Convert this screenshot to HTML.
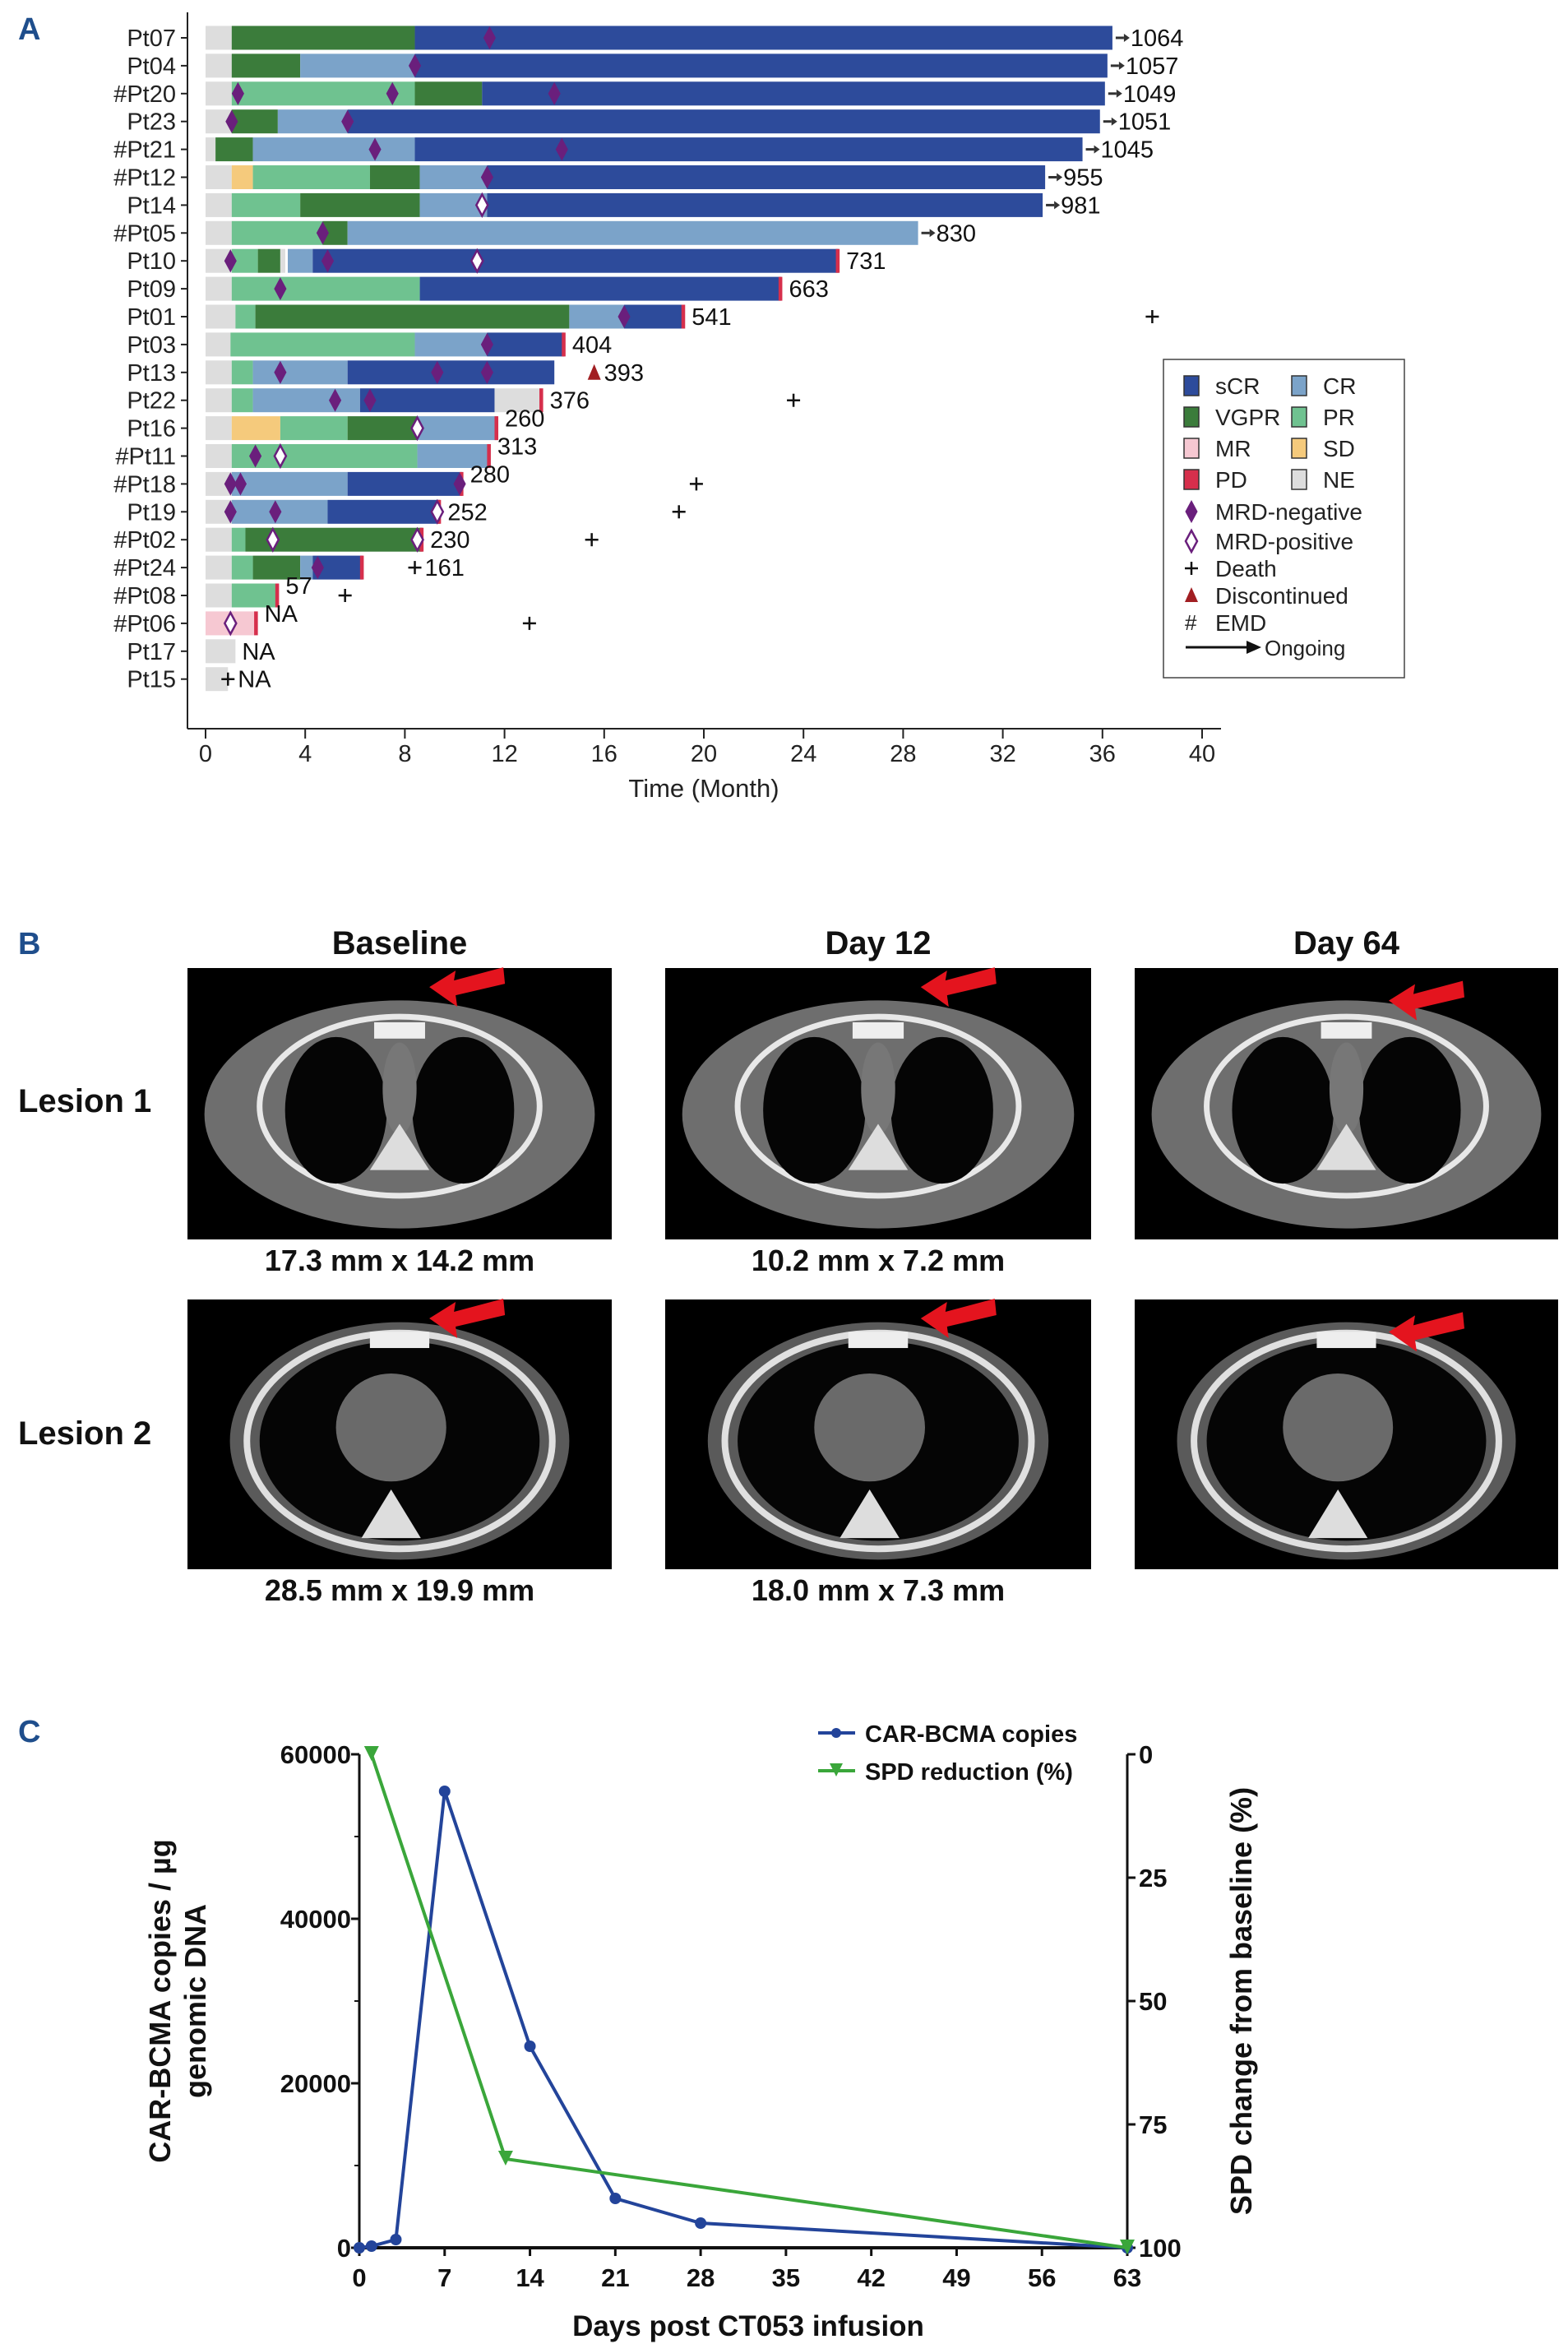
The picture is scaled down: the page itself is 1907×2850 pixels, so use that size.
<!DOCTYPE html>
<html><head><meta charset="utf-8"><style>
body{margin:0;background:#fff;width:1907px;height:2850px;overflow:hidden;font-family:"Liberation Sans",sans-serif}
svg{display:block}
</style></head><body>
<svg id="root" width="1907" height="2850" viewBox="0 0 1907 2850" xmlns="http://www.w3.org/2000/svg" font-family="Liberation Sans, sans-serif">
<text x="22" y="48" font-size="38" font-weight="bold" fill="#1f4e8c">A</text>
<g id="panelA"></g>
<g id="legendA"></g>
<text x="22" y="1160" font-size="38" font-weight="bold" fill="#1f4e8c">B</text>
<g id="panelB"></g>
<text x="22" y="2118" font-size="38" font-weight="bold" fill="#1f4e8c">C</text>
<g id="panelC"></g>
</svg>
<script>
const NS="http://www.w3.org/2000/svg";
function mk(tag,attrs,parent,txt){const e=document.createElementNS(NS,tag);for(const k in attrs)e.setAttribute(k,attrs[k]);if(txt!==undefined)e.textContent=txt;parent.appendChild(e);return e;}
// ---------- Panel A data ----------
const patients=["Pt07","Pt04","#Pt20","Pt23","#Pt21","#Pt12","Pt14","#Pt05","Pt10","Pt09","Pt01","Pt03","Pt13","Pt22","Pt16","#Pt11","#Pt18","Pt19","#Pt02","#Pt24","#Pt08","#Pt06","Pt17","Pt15"];
const segments=[
[["NE",0,1.05],["VGPR",1.05,8.4],["sCR",8.4,36.4]],
[["NE",0,1.05],["VGPR",1.05,3.8],["CR",3.8,8.4],["sCR",8.4,36.2]],
[["NE",0,1.05],["PR",1.05,8.4],["VGPR",8.4,11.1],["sCR",11.1,36.1]],
[["NE",0,1.05],["VGPR",1.05,2.9],["CR",2.9,5.7],["sCR",5.7,35.9]],
[["NE",0,0.4],["VGPR",0.4,1.9],["CR",1.9,8.4],["sCR",8.4,35.2]],
[["NE",0,1.05],["SD",1.05,1.9],["PR",1.9,6.6],["VGPR",6.6,8.6],["CR",8.6,11.3],["sCR",11.3,33.7]],
[["NE",0,1.05],["PR",1.05,3.8],["VGPR",3.8,8.6],["CR",8.6,11.3],["sCR",11.3,33.6]],
[["NE",0,1.05],["PR",1.05,4.7],["VGPR",4.7,5.7],["CR",5.7,28.6]],
[["NE",0,1.05],["PR",1.05,2.1],["VGPR",2.1,3.0],["NE",3.0,3.2],["CR",3.3,4.3],["sCR",4.3,25.4],["PD",25.3,25.45]],
[["NE",0,1.05],["PR",1.05,8.6],["sCR",8.6,23.1],["PD",23.0,23.15]],
[["NE",0,1.2],["PR",1.2,2.0],["VGPR",2.0,14.6],["CR",14.6,16.8],["sCR",16.8,19.2],["PD",19.1,19.25]],
[["NE",0,1.0],["PR",1.0,8.4],["CR",8.4,11.3],["sCR",11.3,14.4],["PD",14.3,14.45]],
[["NE",0,1.05],["PR",1.05,1.9],["CR",1.9,5.7],["sCR",5.7,14.0]],
[["NE",0,1.05],["PR",1.05,1.9],["CR",1.9,6.2],["sCR",6.2,11.6],["NE",11.6,13.5],["PD",13.4,13.55]],
[["NE",0,1.05],["SD",1.05,3.0],["PR",3.0,5.7],["VGPR",5.7,8.5],["CR",8.5,11.7],["PD",11.6,11.75]],
[["NE",0,1.05],["PR",1.05,8.5],["CR",8.5,11.4],["PD",11.3,11.45]],
[["NE",0,1.05],["CR",1.05,5.7],["sCR",5.7,10.3],["PD",10.2,10.35]],
[["NE",0,1.05],["CR",1.05,4.9],["sCR",4.9,9.4],["PD",9.3,9.45]],
[["NE",0,1.05],["PR",1.05,1.6],["VGPR",1.6,8.7],["PD",8.6,8.75]],
[["NE",0,1.05],["PR",1.05,1.9],["VGPR",1.9,3.8],["CR",3.8,4.3],["sCR",4.3,6.3],["PD",6.2,6.35]],
[["NE",0,1.05],["PR",1.05,2.9],["PD",2.8,2.95]],
[["MR",0,2.0],["PD",1.95,2.1]],
[["NE",0,1.2]],
[["NE",0,0.9]]
];
const mrdNeg=[[11.4],[8.4],[1.3,7.5,14.0],[1.05,5.7],[6.8,14.3],[11.3],[],[4.7],[1.0,4.9],[3.0],[16.8],[11.3],[3.0,9.3,11.3],[5.2,6.6],[],[2.0],[1.0,1.4,10.2],[1.0,2.8],[],[4.5],[],[],[],[]];
const mrdPos=[[],[],[],[],[],[],[11.1],[],[10.9],[],[],[],[],[],[8.5],[3.0],[],[9.3],[2.7,8.5],[],[],[1.0],[],[]];
const deaths=[null,null,null,null,null,null,null,null,null,null,38.0,null,null,23.6,null,null,19.7,19.0,15.5,8.4,5.6,13.0,null,0.9];
const discontinued=[null,null,null,null,null,null,null,null,null,null,null,null,15.6,null,null,null,null,null,null,null,null,null,null,null];
const labels=["1064","1057","1049","1051","1045","955","981","830","731","663","541","404","393","376","260","313","280","252","230","161","57","NA","NA","NA"];
const ongoing=[1,1,1,1,1,1,1,1,0,0,0,0,0,0,0,0,0,0,0,0,0,0,0,0];
const xTicksA=[0,4,8,12,16,20,24,28,32,36,40];
const colors={sCR:"#2d4b9b",CR:"#7ba3c9",VGPR:"#3b7c3b",PR:"#6fc290",MR:"#f6c8d2",SD:"#f5ca7c",PD:"#d62f4c",NE:"#dddddd"};
const X0=250,X1=1462;
const xA=m=>X0+m*(X1-X0)/40;
const rowY=i=>46+i*33.9;
const gA=document.getElementById("panelA");
let ax=mk("line",{x1:228,y1:15,x2:228,y2:886,stroke:"#222","stroke-width":2},gA);

ax=mk("line",{x1:228,y1:886,x2:1485,y2:886,stroke:"#222","stroke-width":2},gA);

xTicksA.forEach(t=>{
  const l=mk("line",{x1:xA(t),y1:886,x2:xA(t),y2:898,stroke:"#222","stroke-width":2},gA);
  
  const tx=mk("text",{x:xA(t),y:926,"font-size":29,"text-anchor":"middle",fill:"#222"},gA,String(t));
  
});
let xt=mk("text",{x:856,y:969,"font-size":31,"text-anchor":"middle",fill:"#222"},gA,"Time (Month)");

function diamond(cx,cy,filled,parent){
  return mk("polygon",{points:`${cx},${cy-13} ${cx+7},${cy} ${cx},${cy+13} ${cx-7},${cy}`,fill:filled?"#6a1f7c":"#fff",stroke:"#6a1f7c","stroke-width":filled?1:2.5},parent);
}
function plus(cx,cy,parent){
  const g=mk("g",{},parent);
  mk("line",{x1:cx-8,y1:cy,x2:cx+8,y2:cy,stroke:"#111","stroke-width":2.5},g);
  mk("line",{x1:cx,y1:cy-8,x2:cx,y2:cy+8,stroke:"#111","stroke-width":2.5},g);
  return g;
}
patients.forEach((p,i)=>{
  const cy=rowY(i);
  const row=mk("g",{},gA);
  
  
  mk("line",{x1:220,y1:cy,x2:228,y2:cy,stroke:"#222","stroke-width":2},row);
  const lb=mk("text",{x:214,y:cy+10,"font-size":29,"text-anchor":"end",fill:"#222"},row,p);
  
  let end=0;
  segments[i].forEach(s=>{
    const r=mk("rect",{x:xA(s[1]),y:cy-14.5,width:Math.max(2.5,xA(s[2])-xA(s[1])),height:29,fill:colors[s[0]]},row);
    
    
    end=Math.max(end,s[2]);
  });
  mrdNeg[i].forEach(m=>{const d=diamond(xA(m),cy,true,row);});
  mrdPos[i].forEach(m=>{const d=diamond(xA(m),cy,false,row);});
  if(deaths[i]!==null){const d=plus(xA(deaths[i]),cy,row);}
  if(discontinued[i]!==null){const x=xA(discontinued[i]);const t=mk("polygon",{points:`${x},${cy-10} ${x+8},${cy+9} ${x-8},${cy+9}`,fill:"#a11e22"},row);}
  let lx=xA(end)+8;
  if(ongoing[i]){
    const ar=mk("g",{},row);
    mk("line",{x1:lx-4,y1:cy,x2:lx+6,y2:cy,stroke:"#333","stroke-width":3},ar);
    mk("polygon",{points:`${lx+6},${cy-5} ${lx+13},${cy} ${lx+6},${cy+5}`,fill:"#333"},ar);
    
    lx+=14;
  } else if(discontinued[i]!==null){ lx=xA(discontinued[i])+12; }
  else if(deaths[i]!==null && (Math.abs(xA(deaths[i])-xA(end))<20 || p=="#Pt24")){ lx=xA(deaths[i])+12; }
  let ly=cy+10; if(["#Pt08","#Pt06","Pt16","#Pt11","#Pt18"].includes(p)) ly=cy-2;
  const vt=mk("text",{x:lx,y:ly,"font-size":29,fill:"#111"},row,labels[i]);
  
});
// legend A
const gL=document.getElementById("legendA");
mk("rect",{x:1415,y:437,width:293,height:387,fill:"#fff",stroke:"#444","stroke-width":1.5},gL);
const legPairs=[["sCR","CR"],["VGPR","PR"],["MR","SD"],["PD","NE"]];
const legY=[469,507,545,583];
legPairs.forEach((pr,r)=>{pr.forEach((k,c)=>{
  const xs=c?1571:1440;
  const e=mk("g",{},gL);
  mk("rect",{x:xs,y:legY[r]-12,width:18,height:24,fill:colors[k],stroke:"#333","stroke-width":1.5},e);
  mk("text",{x:xs+38,y:legY[r]+10,"font-size":28,fill:"#222"},e,k);
});});
const leg2=[["MRD-negative",622],["MRD-positive",658],["Death",691],["Discontinued",724],["EMD",757],["Ongoing",787]];
leg2.forEach(([t,y],j)=>{
  const e=mk("g",{},gL);
  if(j==0)diamond(1449,y,true,e);
  if(j==1)diamond(1449,y,false,e);
  if(j==2)plus(1449,y,e);
  if(j==3)mk("polygon",{points:`1449,${y-10} 1457,${y+8} 1441,${y+8}`,fill:"#a11e22"},e);
  if(j==4)mk("text",{x:1441,y:y+9,"font-size":26,fill:"#222"},e,"#");
  if(j==5){mk("line",{x1:1442,y1:y,x2:1520,y2:y,stroke:"#111","stroke-width":3},e);mk("polygon",{points:`1516,${y-8} 1534,${y} 1516,${y+8}`,fill:"#111"},e);}
  mk("text",{x:j==5?1538:1478,y:y+10,"font-size":j==5?26:28,fill:"#222"},e,t);
});
// ---------- Panel B ----------
const gB=document.getElementById("panelB");
const colTitles=["Baseline","Day 12","Day 64"];
const colX=[[228,744],[809,1327],[1380,1895]];
const rowYs=[[1177,1507],[1580,1908]];
const captions=[["17.3 mm x 14.2 mm","10.2 mm x 7.2 mm",""],["28.5 mm x 19.9 mm","18.0 mm x 7.3 mm",""]];
colTitles.forEach((t,c)=>{const e=mk("text",{x:(colX[c][0]+colX[c][1])/2,y:1160,"font-size":40,"font-weight":"bold","text-anchor":"middle",fill:"#111"},gB,t);});
["Lesion 1","Lesion 2"].forEach((t,r)=>{const e=mk("text",{x:22,y:(r?1742:1338)+14,"font-size":40,"font-weight":"bold",fill:"#111"},gB,t);});
rowYs.forEach(([y0,y1],r)=>{colX.forEach(([x0,x1],c)=>{
  const w=x1-x0,h=y1-y0,cx=(x0+x1)/2,cy=(y0+y1)/2+8;
  const g=mk("g",{},gB);
  mk("rect",{x:x0,y:y0,width:w,height:h,fill:"#000"},g);
  if(r==0){
    mk("ellipse",{cx:cx,cy:cy+5,rx:w*0.46,ry:h*0.42,fill:"#6e6e6e"},g);
    mk("ellipse",{cx:cx,cy:cy-5,rx:w*0.33,ry:h*0.33,fill:"none",stroke:"#e8e8e8","stroke-width":7},g);
    mk("ellipse",{cx:cx-w*0.15,cy:cy,rx:w*0.12,ry:h*0.27,fill:"#050505"},g);
    mk("ellipse",{cx:cx+w*0.15,cy:cy,rx:w*0.12,ry:h*0.27,fill:"#050505"},g);
    mk("rect",{x:cx-w*0.06,y:y0+h*0.2,width:w*0.12,height:h*0.06,fill:"#eee"},g);
    mk("ellipse",{cx:cx,cy:cy-h*0.08,rx:w*0.04,ry:h*0.17,fill:"#777"},g);
    mk("polygon",{points:`${cx},${cy+h*0.05} ${cx+w*0.07},${cy+h*0.22} ${cx-w*0.07},${cy+h*0.22}`,fill:"#ddd"},g);
  } else {
    mk("ellipse",{cx:cx,cy:cy,rx:w*0.4,ry:h*0.44,fill:"#5a5a5a"},g);
    mk("ellipse",{cx:cx,cy:cy,rx:w*0.36,ry:h*0.4,fill:"none",stroke:"#e0e0e0","stroke-width":8},g);
    mk("ellipse",{cx:cx,cy:cy,rx:w*0.33,ry:h*0.37,fill:"#050505"},g);
    mk("ellipse",{cx:cx-w*0.02,cy:cy-h*0.05,rx:w*0.13,ry:h*0.2,fill:"#6a6a6a"},g);
    mk("rect",{x:cx-w*0.07,y:y0+h*0.12,width:w*0.14,height:h*0.06,fill:"#eee"},g);
    mk("polygon",{points:`${cx-w*0.02},${cy+h*0.18} ${cx+w*0.05},${cy+h*0.36} ${cx-w*0.09},${cy+h*0.36}`,fill:"#ddd"},g);
  }
  const ax0=x0+w*(c==0?0.57:0.6),ay0=y0+h*(c==2?0.12:0.07);
  mk("polygon",{points:`${ax0},${ay0} ${ax0+32},${ay0-20} ${ax0+30},${ay0-8} ${ax0+90},${ay0-24} ${ax0+92},${ay0-4} ${ax0+32},${ay0+10} ${ax0+34},${ay0+24}`,fill:"#e4141e"},g);
  if(captions[r][c]){const e=mk("text",{x:cx,y:y1+38,"font-size":36,"font-weight":"bold","text-anchor":"middle",fill:"#111"},gB,captions[r][c]);}
});});
// ---------- Panel C data ----------
const carDays=[0,1,3,7,14,21,28,63];
const carCopies=[0,200,1000,55500,24500,6000,3000,0];
const spdDays=[1,12,63];
const spdChange=[0,82,100];
const leftTicks=[0,20000,40000,60000];
const rightTicks=[0,25,50,75,100];
const xTicksC=[0,7,14,21,28,35,42,49,56,63];
const cx0=437,cx1=1371,cyTop=2133,cyBot=2733;
const xC=d=>cx0+d*(cx1-cx0)/63;
const yL=v=>cyBot-v/60000*(cyBot-cyTop);
const yR=p=>cyTop+p/100*(cyBot-cyTop);
const gC=document.getElementById("panelC");
let a=mk("line",{x1:cx0,y1:cyTop,x2:cx0,y2:cyBot,stroke:"#111","stroke-width":3},gC);
a=mk("line",{x1:cx1,y1:cyTop,x2:cx1,y2:cyBot,stroke:"#111","stroke-width":3},gC);
a=mk("line",{x1:cx0,y1:cyBot,x2:cx1,y2:cyBot,stroke:"#111","stroke-width":4},gC);
leftTicks.forEach(t=>{
  mk("line",{x1:cx0-10,y1:yL(t),x2:cx0,y2:yL(t),stroke:"#111","stroke-width":3},gC);
  const e=mk("text",{x:cx0-10,y:yL(t)+11,"font-size":31,"font-weight":"bold","text-anchor":"end",fill:"#111"},gC,String(t));
  
});
[10000,30000,50000].forEach(t=>mk("line",{x1:cx0-6,y1:yL(t),x2:cx0,y2:yL(t),stroke:"#111","stroke-width":2},gC));
rightTicks.forEach(t=>{
  mk("line",{x1:cx1,y1:yR(t),x2:cx1+10,y2:yR(t),stroke:"#111","stroke-width":3},gC);
  const e=mk("text",{x:cx1+14,y:yR(t)+11,"font-size":31,"font-weight":"bold",fill:"#111"},gC,String(t));
  
});
xTicksC.forEach(t=>{
  mk("line",{x1:xC(t),y1:cyBot,x2:xC(t),y2:cyBot+10,stroke:"#111","stroke-width":3},gC);
  const e=mk("text",{x:xC(t),y:cyBot+47,"font-size":31,"font-weight":"bold","text-anchor":"middle",fill:"#111"},gC,String(t));
  
});
let tt=mk("text",{x:910,y:2840,"font-size":35,"font-weight":"bold","text-anchor":"middle",fill:"#111"},gC,"Days post CT053 infusion");

tt=mk("text",{transform:"translate(207,2433) rotate(-90)","font-size":36,"font-weight":"bold","text-anchor":"middle",fill:"#111"},gC,"CAR-BCMA copies / µg");

tt=mk("text",{transform:"translate(250,2433) rotate(-90)","font-size":36,"font-weight":"bold","text-anchor":"middle",fill:"#111"},gC,"genomic DNA");

tt=mk("text",{transform:"translate(1522,2433) rotate(-90)","font-size":36,"font-weight":"bold","text-anchor":"middle",fill:"#111"},gC,"SPD change from baseline (%)");

const bl=mk("polyline",{points:carDays.map((d,i)=>xC(d)+","+yL(carCopies[i])).join(" "),fill:"none",stroke:"#23449a","stroke-width":4},gC);

carDays.forEach((d,i)=>{const c=mk("circle",{cx:xC(d),cy:yL(carCopies[i]),r:7,fill:"#23449a"},gC);});
const gl=mk("polyline",{points:spdDays.map((d,i)=>xC(d)+","+yR(spdChange[i])).join(" "),fill:"none",stroke:"#3aa63a","stroke-width":4},gC);

spdDays.forEach((d,i)=>{const x=xC(d),y=yR(spdChange[i]);const t=mk("polygon",{points:`${x-9},${y-10} ${x+9},${y-10} ${x},${y+8}`,fill:"#3aa63a"},gC);});
let lg=mk("g",{},gC);
mk("line",{x1:995,y1:2107,x2:1040,y2:2107,stroke:"#23449a","stroke-width":4},lg);mk("circle",{cx:1017,cy:2107,r:6,fill:"#23449a"},lg);
mk("text",{x:1052,y:2118,"font-size":29,"font-weight":"bold",fill:"#111"},lg,"CAR-BCMA copies");
lg=mk("g",{},gC);
mk("line",{x1:995,y1:2153,x2:1040,y2:2153,stroke:"#3aa63a","stroke-width":4},lg);mk("polygon",{points:"1009,2144 1025,2144 1017,2160",fill:"#3aa63a"},lg);
mk("text",{x:1052,y:2164,"font-size":29,"font-weight":"bold",fill:"#111"},lg,"SPD reduction (%)");
</script>
</body></html>
